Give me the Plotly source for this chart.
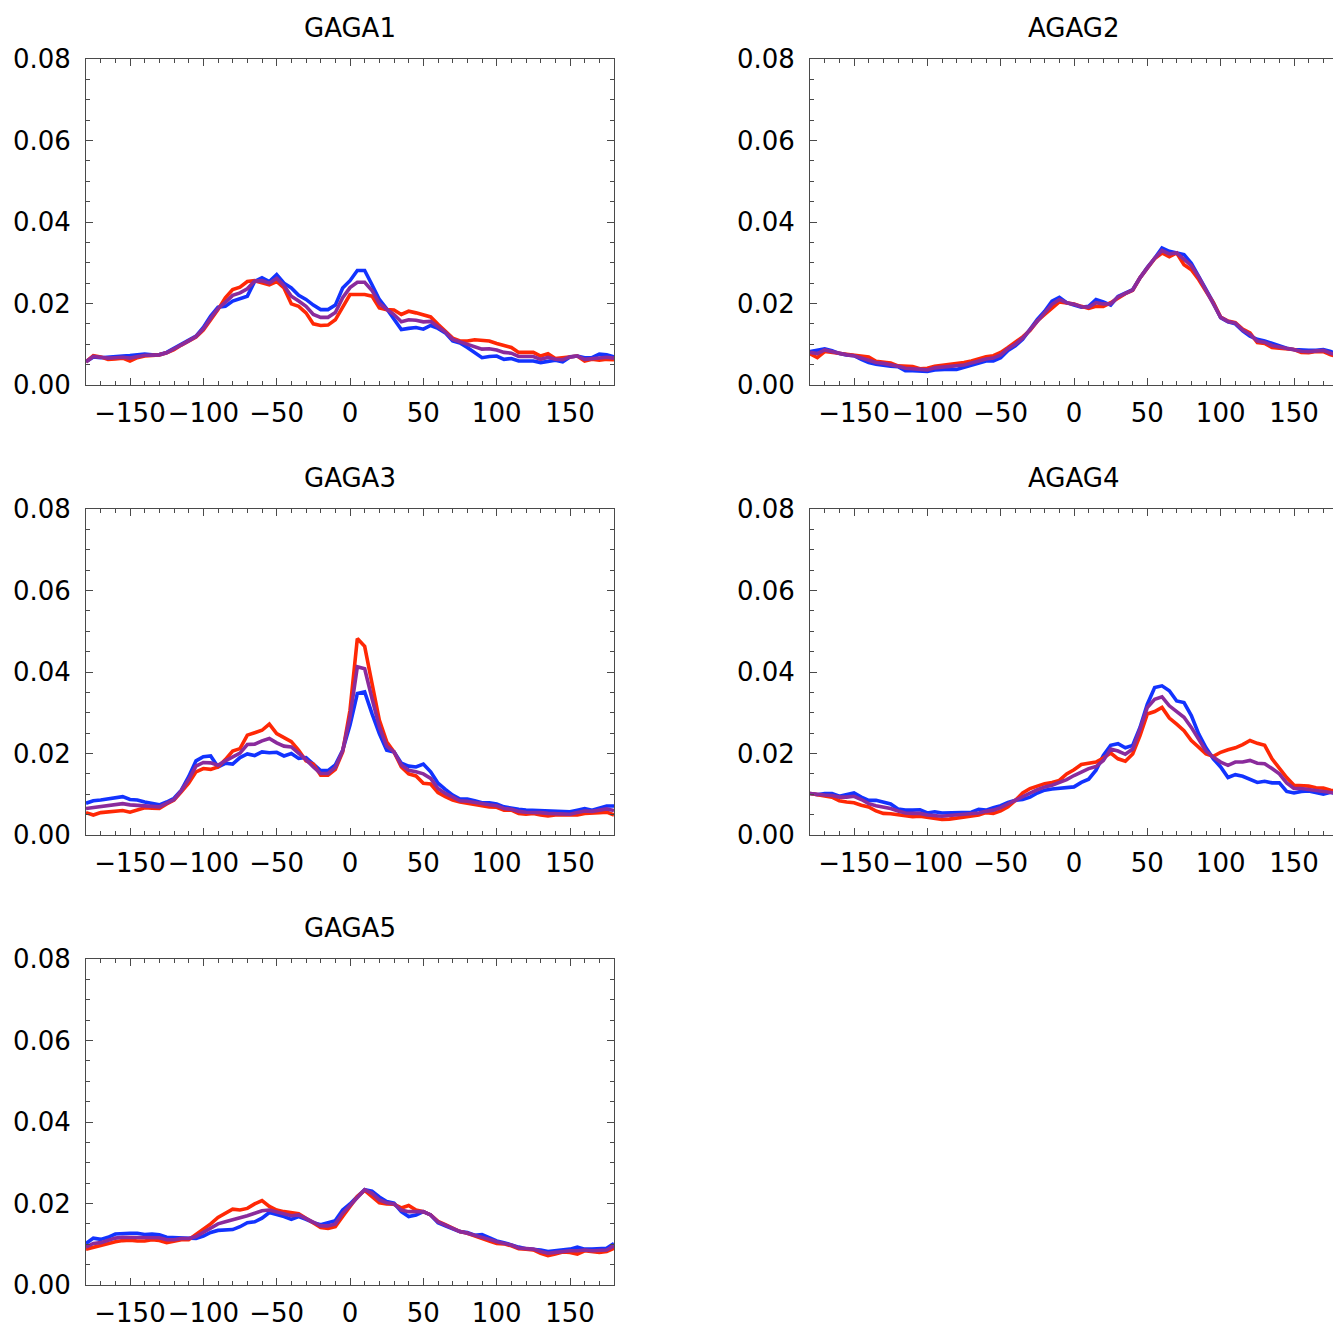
import plotly.graph_objects as go

# ---------------- data ----------------
positions = list(range(-180, 185, 5))  # 73 positions

GAGA1_blue = [0.0057,0.0069,0.0067,0.0069,0.0070,0.0071,0.0072,0.0074,0.0076,0.0074,
              0.0075,0.0080,0.0090,0.0098,0.0108,0.0120,0.0141,0.0169,0.0191,0.0193,
              0.0206,0.0212,0.0218,0.0254,0.0263,0.0254,0.0271,0.0250,0.0238,0.0220,
              0.0210,0.0196,0.0185,0.0185,0.0196,0.0238,0.0256,0.0281,0.0281,0.0246,
              0.0210,0.0187,0.0163,0.0136,0.0139,0.0141,0.0137,0.0146,0.0139,0.0128,
              0.0108,0.0103,0.0092,0.0080,0.0067,0.0070,0.0071,0.0063,0.0065,0.0059,
              0.0059,0.0059,0.0055,0.0059,0.0061,0.0057,0.0069,0.0071,0.0067,0.0067,
              0.0076,0.0074,0.0069]
GAGA1_red = [0.0057,0.0072,0.0069,0.0063,0.0064,0.0066,0.0059,0.0067,0.0071,0.0072,
             0.0074,0.0079,0.0087,0.0098,0.0108,0.0118,0.0135,0.0159,0.0185,0.0214,
             0.0234,0.0240,0.0254,0.0256,0.0250,0.0246,0.0254,0.0238,0.0199,0.0193,
             0.0177,0.0150,0.0146,0.0147,0.0160,0.0191,0.0222,0.0222,0.0222,0.0218,
             0.0189,0.0185,0.0184,0.0173,0.0181,0.0177,0.0173,0.0167,0.0149,0.0133,
             0.0115,0.0108,0.0108,0.0111,0.0110,0.0108,0.0102,0.0096,0.0092,0.0080,
             0.0080,0.0080,0.0071,0.0077,0.0065,0.0067,0.0069,0.0071,0.0059,0.0063,
             0.0061,0.0063,0.0062]
GAGA1_purple = [0.0057,0.0070,0.0068,0.0066,0.0067,0.0068,0.0066,0.0070,0.0073,0.0073,
                0.0074,0.0079,0.0088,0.0098,0.0108,0.0119,0.0138,0.0164,0.0188,0.0203,
                0.0220,0.0226,0.0236,0.0255,0.0256,0.0250,0.0262,0.0244,0.0218,0.0206,
                0.0193,0.0173,0.0166,0.0166,0.0178,0.0214,0.0239,0.0252,0.0252,0.0232,
                0.0200,0.0186,0.0173,0.0155,0.0160,0.0159,0.0155,0.0156,0.0144,0.0130,
                0.0112,0.0106,0.0100,0.0095,0.0088,0.0089,0.0086,0.0080,0.0078,0.0070,
                0.0070,0.0070,0.0063,0.0068,0.0063,0.0062,0.0069,0.0071,0.0063,0.0065,
                0.0068,0.0068,0.0066]

AGAG2_blue = [0.0082,0.0086,0.0089,0.0084,0.0077,0.0074,0.0072,0.0063,0.0055,0.0051,
              0.0048,0.0046,0.0045,0.0035,0.0035,0.0035,0.0033,0.0037,0.0039,0.0039,
              0.0038,0.0043,0.0048,0.0055,0.0059,0.0059,0.0067,0.0085,0.0096,0.0112,
              0.0137,0.0161,0.0181,0.0206,0.0215,0.0202,0.0196,0.0191,0.0193,0.0210,
              0.0204,0.0196,0.0217,0.0225,0.0234,0.0263,0.0289,0.0311,0.0336,0.0328,
              0.0324,0.0320,0.0299,0.0267,0.0232,0.0202,0.0165,0.0155,0.0150,0.0133,
              0.0120,0.0112,0.0108,0.0102,0.0096,0.0090,0.0087,0.0085,0.0085,0.0085,
              0.0087,0.0082,0.0076]
AGAG2_red = [0.0077,0.0067,0.0082,0.0080,0.0076,0.0074,0.0072,0.0071,0.0069,0.0058,
             0.0057,0.0054,0.0047,0.0047,0.0045,0.0040,0.0041,0.0046,0.0048,0.0049,
             0.0053,0.0055,0.0059,0.0065,0.0069,0.0072,0.0080,0.0092,0.0104,0.0118,
             0.0134,0.0157,0.0173,0.0189,0.0204,0.0201,0.0199,0.0193,0.0188,0.0193,
             0.0193,0.0202,0.0214,0.0224,0.0232,0.0263,0.0287,0.0310,0.0324,0.0315,
             0.0324,0.0295,0.0283,0.0259,0.0230,0.0202,0.0167,0.0157,0.0153,0.0137,
             0.0128,0.0104,0.0102,0.0092,0.0090,0.0089,0.0087,0.0080,0.0079,0.0082,
             0.0082,0.0074,0.0069]
AGAG2_purple = [0.0080,0.0077,0.0086,0.0082,0.0077,0.0074,0.0072,0.0067,0.0062,0.0055,
                0.0053,0.0050,0.0046,0.0041,0.0040,0.0038,0.0037,0.0042,0.0044,0.0044,
                0.0046,0.0049,0.0054,0.0060,0.0064,0.0066,0.0074,0.0089,0.0100,0.0115,
                0.0136,0.0159,0.0177,0.0198,0.0210,0.0202,0.0198,0.0192,0.0191,0.0202,
                0.0199,0.0199,0.0216,0.0225,0.0233,0.0263,0.0288,0.0311,0.0330,0.0322,
                0.0324,0.0308,0.0293,0.0265,0.0232,0.0202,0.0166,0.0156,0.0152,0.0135,
                0.0124,0.0108,0.0105,0.0097,0.0093,0.0090,0.0087,0.0083,0.0082,0.0084,
                0.0085,0.0078,0.0073]

GAGA3_blue = [0.0078,0.0084,0.0086,0.0088,0.0092,0.0094,0.0087,0.0086,0.0081,0.0078,
              0.0074,0.0081,0.0090,0.0110,0.0143,0.0182,0.0192,0.0194,0.0167,0.0176,
              0.0174,0.0190,0.0199,0.0195,0.0204,0.0202,0.0203,0.0194,0.0200,0.0188,
              0.0190,0.0174,0.0158,0.0158,0.0172,0.0208,0.0270,0.0347,0.0351,0.0298,
              0.0249,0.0208,0.0204,0.0176,0.0169,0.0167,0.0174,0.0155,0.0127,0.0112,
              0.0098,0.0088,0.0088,0.0084,0.0079,0.0079,0.0076,0.0069,0.0065,0.0063,
              0.0061,0.0060,0.0060,0.0060,0.0059,0.0057,0.0057,0.0061,0.0065,0.0061,
              0.0067,0.0071,0.0071]
GAGA3_red = [0.0055,0.0049,0.0055,0.0057,0.0058,0.0060,0.0056,0.0061,0.0067,0.0066,
             0.0065,0.0076,0.0086,0.0106,0.0127,0.0155,0.0163,0.0161,0.0167,0.0185,
             0.0206,0.0212,0.0245,0.0251,0.0257,0.0272,0.0249,0.0239,0.0229,0.0208,
             0.0182,0.0174,0.0147,0.0147,0.0161,0.0204,0.0306,0.0482,0.0463,0.0372,
             0.0282,0.0229,0.0204,0.0167,0.0150,0.0145,0.0127,0.0125,0.0104,0.0094,
             0.0086,0.0081,0.0078,0.0076,0.0071,0.0069,0.0068,0.0061,0.0061,0.0053,
             0.0051,0.0053,0.0049,0.0047,0.0049,0.0049,0.0047,0.0049,0.0053,0.0055,
             0.0055,0.0056,0.0049]
GAGA3_purple = [0.0065,0.0067,0.0069,0.0073,0.0075,0.0077,0.0074,0.0073,0.0073,0.0072,
                0.0069,0.0078,0.0087,0.0109,0.0136,0.0169,0.0178,0.0177,0.0171,0.0182,
                0.0192,0.0201,0.0222,0.0223,0.0231,0.0237,0.0226,0.0218,0.0216,0.0201,
                0.0185,0.0167,0.0151,0.0151,0.0166,0.0207,0.0290,0.0413,0.0408,0.0335,
                0.0266,0.0218,0.0204,0.0172,0.0159,0.0155,0.0150,0.0139,0.0114,0.0102,
                0.0092,0.0084,0.0083,0.0080,0.0075,0.0074,0.0072,0.0065,0.0063,0.0058,
                0.0056,0.0056,0.0055,0.0053,0.0053,0.0053,0.0051,0.0055,0.0059,0.0058,
                0.0061,0.0064,0.0060]

AGAG4_blue = [0.0102,0.0099,0.0102,0.0102,0.0095,0.0100,0.0103,0.0093,0.0085,0.0085,
              0.0081,0.0076,0.0064,0.0061,0.0061,0.0062,0.0054,0.0057,0.0054,0.0054,
              0.0055,0.0056,0.0056,0.0063,0.0061,0.0067,0.0072,0.0080,0.0085,0.0087,
              0.0093,0.0103,0.0110,0.0113,0.0115,0.0117,0.0118,0.0129,0.0137,0.0159,
              0.0195,0.0220,0.0224,0.0214,0.0220,0.0264,0.0321,0.0362,0.0366,0.0354,
              0.0329,0.0325,0.0293,0.0248,0.0214,0.0187,0.0167,0.0141,0.0148,0.0144,
              0.0137,0.0129,0.0132,0.0128,0.0128,0.0107,0.0103,0.0107,0.0108,0.0103,
              0.0100,0.0105,0.0100]
AGAG4_red = [0.0102,0.0098,0.0096,0.0093,0.0084,0.0081,0.0079,0.0073,0.0069,0.0059,
             0.0053,0.0052,0.0049,0.0046,0.0045,0.0046,0.0043,0.0040,0.0038,0.0039,
             0.0041,0.0045,0.0046,0.0049,0.0055,0.0053,0.0059,0.0069,0.0085,0.0103,
             0.0114,0.0120,0.0126,0.0129,0.0134,0.0150,0.0160,0.0173,0.0175,0.0179,
             0.0189,0.0201,0.0187,0.0181,0.0199,0.0244,0.0297,0.0303,0.0313,0.0287,
             0.0272,0.0256,0.0232,0.0215,0.0199,0.0193,0.0203,0.0209,0.0214,0.0222,
             0.0232,0.0225,0.0220,0.0187,0.0163,0.0141,0.0122,0.0122,0.0120,0.0116,
             0.0115,0.0110,0.0106]
AGAG4_purple = [0.0102,0.0099,0.0098,0.0097,0.0093,0.0093,0.0095,0.0087,0.0077,0.0072,
                0.0069,0.0065,0.0059,0.0054,0.0053,0.0053,0.0049,0.0047,0.0046,0.0048,
                0.0049,0.0050,0.0052,0.0054,0.0058,0.0061,0.0067,0.0076,0.0087,0.0095,
                0.0103,0.0111,0.0118,0.0122,0.0128,0.0136,0.0146,0.0154,0.0163,0.0168,
                0.0183,0.0211,0.0206,0.0198,0.0211,0.0260,0.0313,0.0333,0.0339,0.0317,
                0.0303,0.0289,0.0264,0.0233,0.0206,0.0191,0.0179,0.0171,0.0179,0.0179,
                0.0183,0.0176,0.0175,0.0163,0.0150,0.0128,0.0114,0.0114,0.0112,0.0110,
                0.0107,0.0105,0.0102]

GAGA5_blue = [0.0102,0.0115,0.0112,0.0117,0.0125,0.0127,0.0127,0.0127,0.0124,0.0125,
              0.0123,0.0117,0.0116,0.0117,0.0116,0.0114,0.0120,0.0129,0.0134,0.0135,
              0.0136,0.0143,0.0153,0.0155,0.0164,0.0178,0.0174,0.0168,0.0161,0.0168,
              0.0161,0.0153,0.0148,0.0153,0.0158,0.0184,0.0199,0.0217,0.0234,0.0230,
              0.0216,0.0205,0.0201,0.0180,0.0168,0.0172,0.0180,0.0172,0.0153,0.0145,
              0.0139,0.0131,0.0129,0.0122,0.0124,0.0117,0.0108,0.0104,0.0098,0.0093,
              0.0089,0.0088,0.0086,0.0082,0.0084,0.0084,0.0088,0.0093,0.0088,0.0088,
              0.0088,0.0090,0.0102]
GAGA5_red = [0.0088,0.0093,0.0097,0.0101,0.0106,0.0109,0.0110,0.0108,0.0108,0.0111,
             0.0109,0.0104,0.0107,0.0111,0.0111,0.0124,0.0137,0.0150,0.0166,0.0176,
             0.0186,0.0184,0.0188,0.0199,0.0207,0.0193,0.0184,0.0180,0.0178,0.0175,
             0.0164,0.0152,0.0141,0.0139,0.0143,0.0168,0.0193,0.0217,0.0232,0.0217,
             0.0202,0.0199,0.0198,0.0189,0.0195,0.0184,0.0180,0.0172,0.0156,0.0148,
             0.0139,0.0131,0.0127,0.0120,0.0115,0.0108,0.0102,0.0101,0.0096,0.0089,
             0.0088,0.0086,0.0078,0.0072,0.0076,0.0081,0.0080,0.0076,0.0084,0.0081,
             0.0080,0.0082,0.0090]
GAGA5_purple = [0.0093,0.0102,0.0104,0.0109,0.0115,0.0117,0.0117,0.0117,0.0116,0.0117,
                0.0116,0.0111,0.0111,0.0114,0.0114,0.0119,0.0129,0.0139,0.0150,0.0155,
                0.0160,0.0163,0.0170,0.0176,0.0182,0.0184,0.0180,0.0175,0.0170,0.0172,
                0.0163,0.0152,0.0145,0.0145,0.0150,0.0176,0.0196,0.0217,0.0234,0.0225,
                0.0209,0.0202,0.0199,0.0184,0.0180,0.0180,0.0180,0.0172,0.0155,0.0147,
                0.0139,0.0131,0.0127,0.0122,0.0119,0.0112,0.0106,0.0102,0.0098,0.0091,
                0.0089,0.0088,0.0082,0.0078,0.0080,0.0083,0.0084,0.0084,0.0086,0.0084,
                0.0084,0.0086,0.0096]

panel_titles = ["GAGA1", "AGAG2", "GAGA3", "AGAG4", "GAGA5"]
panel_series = [
    (GAGA1_blue, GAGA1_red, GAGA1_purple),
    (AGAG2_blue, AGAG2_red, AGAG2_purple),
    (GAGA3_blue, GAGA3_red, GAGA3_purple),
    (AGAG4_blue, AGAG4_red, AGAG4_purple),
    (GAGA5_blue, GAGA5_red, GAGA5_purple),
]
x_tickvals = [-150, -100, -50, 0, 50, 100, 150]
y_tickvals = [0.0, 0.02, 0.04, 0.06, 0.08]

# ---------------- style / layout ----------------
W, H = 1333, 1329
col_px = [(86, 614), (810, 1333)]
row_px = [(59, 385), (509, 835), (959, 1285)]
colors = {"blue": "#1233ff", "red": "#ff2805", "purple": "#8a2b9c"}
FONT = "DejaVu Sans"
AX = "#4a4a4a"
FS = 26

fig = go.Figure()
layout = dict(width=W, height=H,
              margin=dict(l=0, r=0, t=0, b=0, pad=0, autoexpand=False),
              paper_bgcolor="white", plot_bgcolor="white", showlegend=False,
              annotations=[])

for i, (title, series) in enumerate(zip(panel_titles, panel_series)):
    r, c = divmod(i, 2)
    x0, x1 = col_px[c]
    y0, y1 = row_px[r]
    n = i + 1
    xa = "xaxis" if n == 1 else f"xaxis{n}"
    ya = "yaxis" if n == 1 else f"yaxis{n}"
    xref = "x" if n == 1 else f"x{n}"
    yref = "y" if n == 1 else f"y{n}"
    span = (x1 - x0) / 528 * 360
    layout[xa] = dict(domain=[x0 / W, x1 / W], anchor=yref, range=[-180, -180 + span],
                      tickvals=x_tickvals, tickangle=0, ticks="inside", ticklen=7,
                      tickwidth=1, tickcolor=AX, showline=True, linecolor=AX, linewidth=1,
                      mirror="allticks", showgrid=False, zeroline=False,
                      ticklabelstandoff=5, automargin=False,
                      tickfont=dict(family=FONT, size=FS, color="black"),
                      minor=dict(dtick=10, tick0=0, ticks="inside", ticklen=4,
                                 tickcolor=AX, tickwidth=1, showgrid=False))
    layout[ya] = dict(domain=[1 - y1 / H, 1 - y0 / H], anchor=xref, range=[0, 0.08],
                      tickvals=y_tickvals, tickformat=".2f", ticks="inside", ticklen=7,
                      tickwidth=1, tickcolor=AX, showline=True, linecolor=AX, linewidth=1,
                      mirror=("allticks" if c == 0 else False), showgrid=False,
                      zeroline=False, ticklabelstandoff=9, automargin=False,
                      tickfont=dict(family=FONT, size=FS, color="black"),
                      minor=dict(dtick=0.005, tick0=0, ticks="inside", ticklen=4,
                                 tickcolor=AX, tickwidth=1, showgrid=False))
    blue, red, purple = series
    for name, vals in (("blue", blue), ("red", red), ("purple", purple)):
        fig.add_trace(go.Scatter(x=positions, y=vals, mode="lines", xaxis=xref, yaxis=yref,
                                 line=dict(color=colors[name], width=3.6), hoverinfo="skip"))
    cx = (x0 + x0 + 528) / 2
    layout["annotations"].append(dict(text=title, x=cx / W, y=1 - (y0 - 31) / H,
                                      xref="paper", yref="paper",
                                      showarrow=False, xanchor="center", yanchor="middle",
                                      font=dict(family=FONT, size=FS, color="black")))

fig.update_layout(**layout)
fig.write_html("out.html", config={"displayModeBar": False},
               post_script="document.body.style.margin='0px';document.body.style.overflow='hidden';")
